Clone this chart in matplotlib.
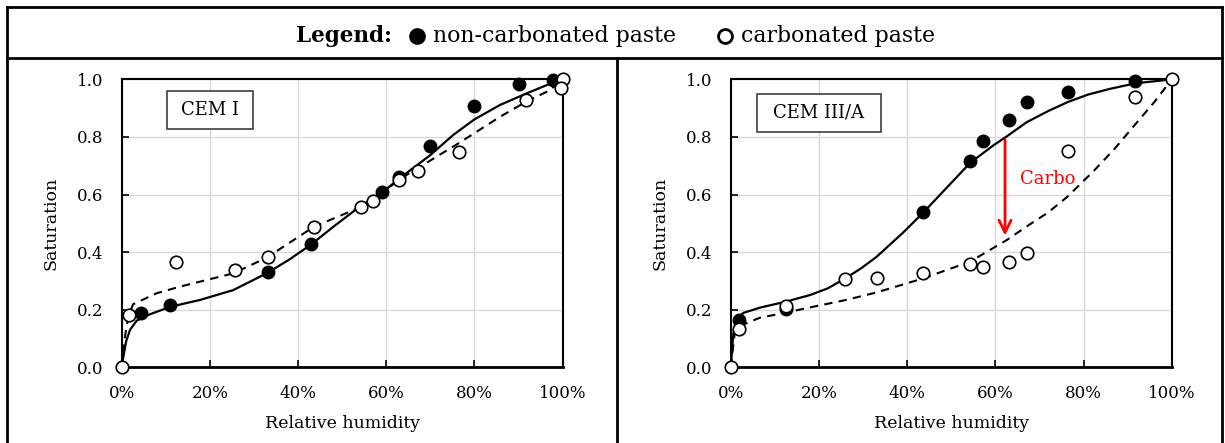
# ===== IMPORTS =====
import numpy as np
import matplotlib
matplotlib.use('Agg')
import matplotlib.pyplot as plt
from matplotlib.lines import Line2D
from matplotlib.patches import Rectangle
from matplotlib.ticker import PercentFormatter

plt.rcParams['font.family'] = ['DejaVu Serif']

# ===== DATA =====
# CEM I
cem1_nc_rh = [0.044, 0.11, 0.332, 0.43, 0.59, 0.63, 0.70, 0.80, 0.90, 0.979]
cem1_nc_s = [0.19, 0.215, 0.331, 0.428, 0.609, 0.66, 0.767, 0.908, 0.984, 0.998]
cem1_c_rh = [0.0, 0.017, 0.123, 0.258, 0.332, 0.436, 0.543, 0.57, 0.63, 0.671, 0.764, 0.917, 1.0, 0.997]
cem1_c_s = [0.0, 0.18, 0.367, 0.338, 0.384, 0.488, 0.557, 0.577, 0.65, 0.683, 0.748, 0.928, 1.0, 0.969]

cem1_fit_nc_rh = [0.0, 0.004, 0.01, 0.019, 0.034, 0.064, 0.11, 0.178, 0.253, 0.314, 0.332, 0.382,
                  0.43, 0.48, 0.54, 0.59, 0.63, 0.70, 0.752, 0.80, 0.858, 0.918, 0.964, 1.0]
cem1_fit_nc_s = [0.0, 0.037, 0.089, 0.13, 0.162, 0.184, 0.21, 0.234, 0.268, 0.315, 0.329, 0.376,
                 0.427, 0.488, 0.558, 0.606, 0.656, 0.737, 0.807, 0.861, 0.911, 0.951, 0.98, 1.0]
cem1_fit_c_rh = [0.0, 0.0075, 0.015, 0.026, 0.079, 0.132, 0.2, 0.253, 0.314, 0.332, 0.436, 0.543,
                 0.59, 0.63, 0.671, 0.764, 0.858, 0.917, 0.964, 1.0]
cem1_fit_c_s = [0.0, 0.106, 0.176, 0.219, 0.257, 0.28, 0.306, 0.326, 0.37, 0.384, 0.488, 0.557,
                0.604, 0.653, 0.691, 0.778, 0.87, 0.922, 0.957, 0.995]

# CEM III/A
cem3_nc_rh = [0.019, 0.125, 0.437, 0.543, 0.571, 0.63, 0.671, 0.764, 0.917]
cem3_nc_s = [0.164, 0.204, 0.539, 0.718, 0.787, 0.859, 0.923, 0.955, 0.995]
cem3_c_rh = [0.0, 0.019, 0.125, 0.259, 0.332, 0.437, 0.543, 0.571, 0.63, 0.671, 0.764, 0.917, 1.0]
cem3_c_s = [0.0, 0.132, 0.214, 0.305, 0.311, 0.329, 0.357, 0.348, 0.364, 0.397, 0.75, 0.938, 1.0]

cem3_fit_nc_rh = [0.0, 0.006, 0.0136, 0.029, 0.066, 0.125, 0.18, 0.22, 0.259, 0.295, 0.331, 0.391,
                  0.437, 0.482, 0.543, 0.595, 0.626, 0.671, 0.72, 0.764, 0.81, 0.86, 0.917, 1.0]
cem3_fit_nc_s = [0.0, 0.117, 0.17, 0.189, 0.207, 0.228, 0.251, 0.274, 0.308, 0.343, 0.384, 0.468,
                 0.538, 0.611, 0.71, 0.77, 0.802, 0.851, 0.89, 0.921, 0.947, 0.967, 0.986, 1.0]
cem3_fit_c_rh = [0.0, 0.01, 0.019, 0.066, 0.125, 0.18, 0.259, 0.331, 0.437, 0.543, 0.626, 0.671,
                 0.72, 0.764, 0.822, 0.87, 0.917, 0.96, 1.0]
cem3_fit_c_s = [0.0, 0.129, 0.143, 0.172, 0.19, 0.208, 0.233, 0.26, 0.309, 0.367, 0.442, 0.489,
                0.538, 0.593, 0.68, 0.758, 0.843, 0.92, 1.0]

panel_names = ['CEM I', 'CEM III/A']
x_ticks = [0.0, 0.2, 0.4, 0.6, 0.8, 1.0]
y_ticks = [0.0, 0.2, 0.4, 0.6, 0.8, 1.0]

# arrow on CEM III/A: rh, start, end
carbo_rh = 0.622
carbo_from = 0.80
carbo_to = 0.448


# ===== FIGURE =====
fig = plt.figure(figsize=(12.25, 4.43), dpi=100)

# frame lines in figure coords
for xs, ys in [([0.0057, 0.0057], [0.0, 0.984]),
               ([0.9976, 0.9976], [0.0, 0.984]),
               ([0.0057, 0.9976], [0.984, 0.984]),
               ([0.0057, 0.9976], [0.869, 0.869]),
               ([0.5037, 0.5037], [0.0, 0.869])]:
	fig.add_artist(Line2D(xs, ys, color='black', lw=2, transform=fig.transFigure))

# header legend
hy = 0.919
fig.text(296 / 1225, hy, 'Legend:', fontsize=15.5, fontweight='bold', va='center', ha='left')
fig.add_artist(Line2D([417 / 1225], [hy], marker='o', ms=11, mfc='black', mec='black',
                      transform=fig.transFigure))
fig.text(433 / 1225, hy, 'non-carbonated paste', fontsize=15.8, va='center', ha='left')
fig.add_artist(Line2D([725 / 1225], [hy], marker='o', ms=10, mfc='white', mec='black', mew=2,
                      transform=fig.transFigure))
fig.text(741 / 1225, hy, 'carbonated paste', fontsize=15.8, va='center', ha='left')


def make_panel(ax, name, nc_rh, nc_s, c_rh, c_s, fit_nc_rh, fit_nc_s, fit_c_rh, fit_c_s, box):
	ax.set_xlim(0, 1)
	ax.set_ylim(0, 1)
	ax.set_xticks(x_ticks)
	ax.set_yticks(y_ticks)
	ax.xaxis.set_major_formatter(PercentFormatter(1.0, decimals=0))
	ax.yaxis.set_major_formatter('{x:.1f}')
	ax.grid(True, color='#d9d9d9', lw=1)
	ax.set_axisbelow(True)
	ax.tick_params(direction='in', length=5, width=1.2, labelsize=12, color='black')
	ax.tick_params(axis='x', pad=13)
	ax.tick_params(axis='y', pad=13)
	for s in ax.spines.values():
		s.set_linewidth(1.5)
		s.set_color('black')
	ax.spines['bottom'].set_linewidth(2)

	ax.plot(fit_nc_rh, fit_nc_s, color='black', lw=1.6, zorder=3)
	ax.plot(fit_c_rh, fit_c_s, color='black', lw=1.5, ls=(0, (4, 3)), zorder=3)
	ax.plot(nc_rh, nc_s, 'o', ms=9, mfc='black', mec='black', zorder=4, clip_on=False)
	ax.plot(c_rh, c_s, 'o', ms=9, mfc='white', mec='black', mew=1.2, zorder=5, clip_on=False)

	ax.set_xlabel('Relative humidity', fontsize=12.5)
	ax.set_ylabel('Saturation', fontsize=12.5)
	ax.xaxis.set_label_coords(0.5, -0.166)
	ax.yaxis.set_label_coords(-0.142, 0.5)

	x0, y0, x1, y1 = box
	ax.add_patch(Rectangle((x0, y0), x1 - x0, y1 - y0, transform=ax.transAxes,
	                       fill=True, fc='white', ec='#404040', lw=1.2, zorder=6))
	ax.text((x0 + x1) / 2, (y0 + y1) / 2, name, transform=ax.transAxes, fontsize=13,
	        ha='center', va='center', zorder=7)


ax1 = fig.add_axes([0.0993, 0.1709, 0.36, 0.650])
make_panel(ax1, panel_names[0], cem1_nc_rh, cem1_nc_s, cem1_c_rh, cem1_c_s,
           cem1_fit_nc_rh, cem1_fit_nc_s, cem1_fit_c_rh, cem1_fit_c_s,
           (0.103, 0.827, 0.298, 0.96))

ax2 = fig.add_axes([0.5965, 0.1709, 0.36, 0.650])
make_panel(ax2, panel_names[1], cem3_nc_rh, cem3_nc_s, cem3_c_rh, cem3_c_s,
           cem3_fit_nc_rh, cem3_fit_nc_s, cem3_fit_c_rh, cem3_fit_c_s,
           (0.059, 0.818, 0.34, 0.95))

# carbonation arrow
ax2.annotate('', xy=(carbo_rh, carbo_to), xytext=(carbo_rh, carbo_from),
             arrowprops=dict(arrowstyle='->', color='red', lw=2, mutation_scale=22), zorder=6)
ax2.text(carbo_rh + 0.034, 0.655, 'Carbo', color='red', fontsize=13, ha='left', va='center')

fig.savefig('out.png', dpi=100)
